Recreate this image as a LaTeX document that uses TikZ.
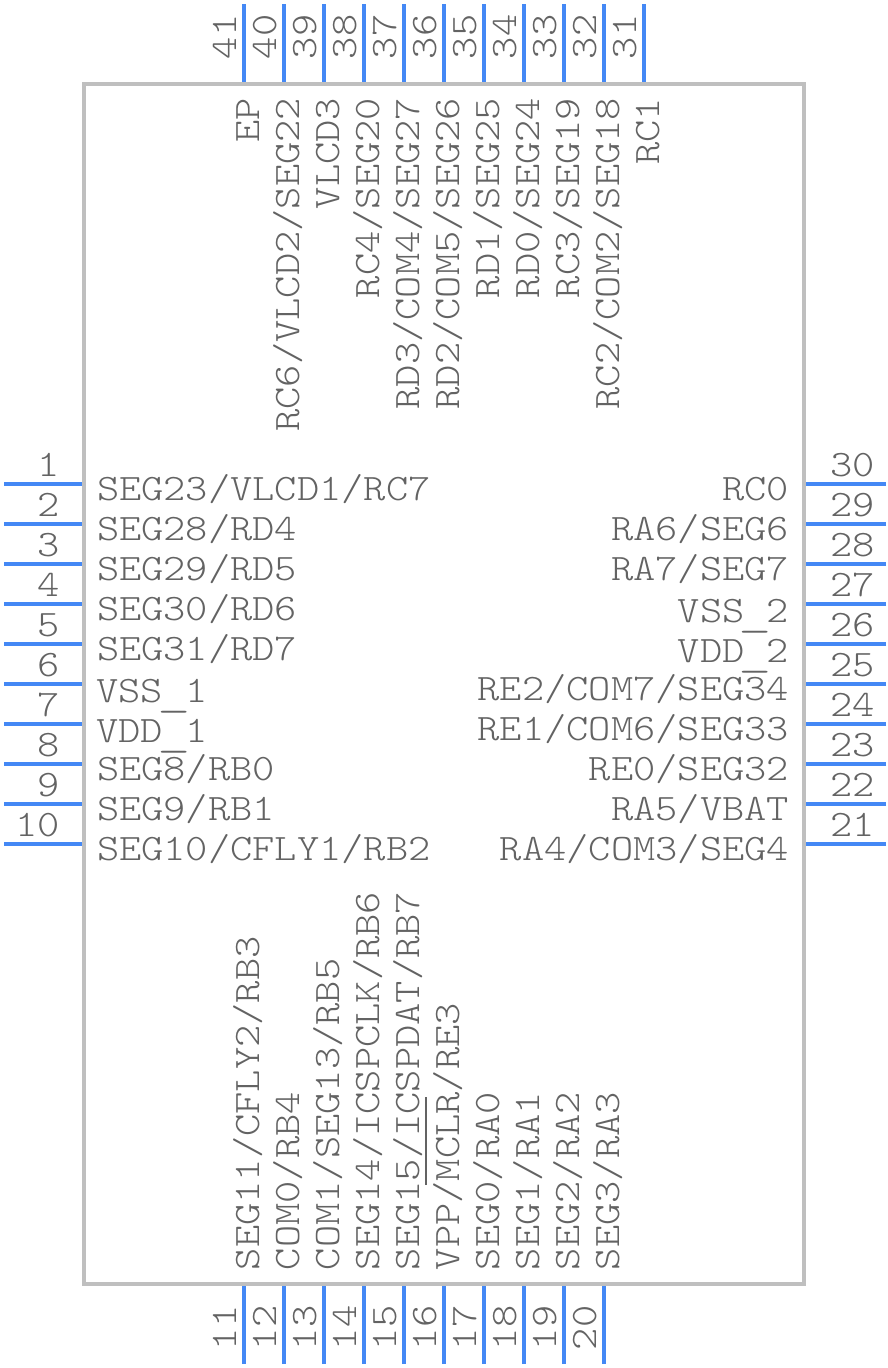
\documentclass[tikz,border=0pt]{standalone}
\usepackage{graphicx}
\usepackage{fontspec}
\setmainfont[FakeStretch=1.135]{Latin Modern Mono Light}
\definecolor{pinblue}{HTML}{4488F5}
\definecolor{bodygray}{HTML}{BFBFBF}
\definecolor{txtgray}{HTML}{636363}
\newcommand{\lowbar}{\makebox[16.7pt][c]{\raisebox{-3pt}{\scalebox{1.5}[1]{\_}}}}
\tikzset{
  x=0.75pt,y=-0.75pt,
  pinline/.style={draw=pinblue,line width=3pt},
  chipbody/.style={draw=bodygray,line width=3pt},
  lbl/.style={inner sep=0pt,outer sep=0pt,text=txtgray,font=\fontsize{28}{30}\selectfont},
}
\begin{document}
\begin{tikzpicture}
\useasboundingbox (0,0) rectangle (888,1368);
\draw[chipbody] (84,84) rectangle (804,1284);
% left pins
\foreach \n/\t [count=\i from 0] in {1/SEG23\slash VLCD1\slash RC7,2/SEG28\slash RD4,3/SEG29\slash RD5,4/SEG30\slash RD6,5/SEG31\slash RD7,6/,7/,8/SEG8\slash RB0,9/SEG9\slash RB1,10/SEG10\slash CFLY1\slash RB2}{
  \pgfmathsetmacro{\yy}{484+40*\i}
  \coordinate (pl\n) at (4,\yy);
  \coordinate (pli\n) at (82,\yy);
  \draw[pinline] (pl\n) -- (pli\n);
  \node[lbl,anchor=base east] (nl\n) at (60,\yy-8) {\n};
  \node[lbl,anchor=base west] (tl\n) at (97,\yy+16) {\t};
}
\node[lbl,anchor=base west] (tvss1) at (96,702) {VSS\lowbar 1};
\node[lbl,anchor=base west] (tvdd1) at (96,742) {VDD\lowbar 1};
% right pins
\foreach \n/\t [count=\i from 0] in {30/RC0,29/RA6\slash SEG6,28/RA7\slash SEG7,27/,26/,25/RE2\slash COM7\slash SEG34,24/RE1\slash COM6\slash SEG33,23/RE0\slash SEG32,22/RA5\slash VBAT,21/RA4\slash COM3\slash SEG4}{
  \pgfmathsetmacro{\yy}{484+40*\i}
  \coordinate (pr\n) at (886,\yy);
  \coordinate (pri\n) at (806,\yy);
  \draw[pinline] (pr\n) -- (pri\n);
  \node[lbl,anchor=base west] (nr\n) at (830,\yy-8) {\n};
  \node[lbl,anchor=base east] (tr\n) at (789,\yy+16) {\t};
}
\node[lbl,anchor=base east] (tvss2) at (789,622) {VSS\lowbar 2};
\node[lbl,anchor=base east] (tvdd2) at (789,662) {VDD\lowbar 2};
% top pins
\foreach \n/\t [count=\i from 0] in {41/EP,40/RC6\slash VLCD2\slash SEG22,39/VLCD3,38/RC4\slash SEG20,37/RD3\slash COM4\slash SEG27,36/RD2\slash COM5\slash SEG26,35/RD1\slash SEG25,34/RD0\slash SEG24,33/RC3\slash SEG19,32/RC2\slash COM2\slash SEG18,31/RC1}{
  \pgfmathsetmacro{\xx}{244+40*\i}
  \coordinate (pt\n) at (\xx,4);
  \coordinate (pti\n) at (\xx,82);
  \draw[pinline] (pt\n) -- (pti\n);
  \node[lbl,anchor=base west,rotate=90] (nt\n) at (\xx-8,59) {\n};
  \node[lbl,anchor=base east,rotate=90] (tt\n) at (\xx+15,98) {\t};
}
% bottom pins
\foreach \n/\t [count=\i from 0] in {11/SEG11\slash CFLY2\slash RB3,12/COM0\slash RB4,13/COM1\slash SEG13\slash RB5,14/SEG14\slash ICSPCLK\slash RB6,15/SEG15\slash ICSPDAT\slash RB7,16/VPP\slash MCLR\slash RE3,17/SEG0\slash RA0,18/SEG1\slash RA1,19/SEG2\slash RA2,20/SEG3\slash RA3}{
  \pgfmathsetmacro{\xx}{244+40*\i}
  \coordinate (pb\n) at (\xx,1364);
  \coordinate (pbi\n) at (\xx,1286);
  \draw[pinline] (pb\n) -- (pbi\n);
  \node[lbl,anchor=base west,rotate=90] (nb\n) at (\xx-8,1350) {\n};
  \node[lbl,anchor=base west,rotate=90] (tb\n) at (\xx+15,1270) {\t};
}
% overline of MCLR
\draw[draw=txtgray,line width=1.5pt] (426,1185) -- (426,1097);
\end{tikzpicture}
\end{document}
